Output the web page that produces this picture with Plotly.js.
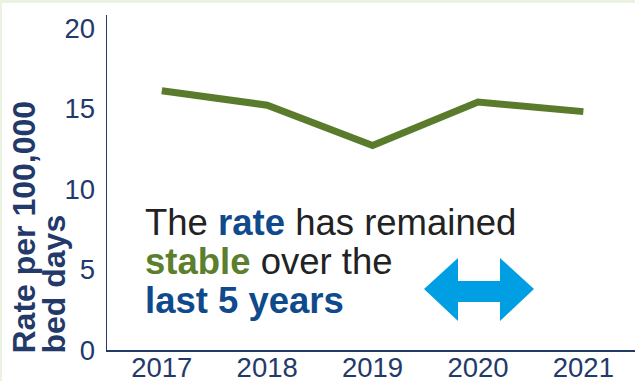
<!DOCTYPE html>
<html><head><meta charset="utf-8">
<script src="https://cdn.plot.ly/plotly-3.0.1.min.js"></script>
<style>
html,body{margin:0;padding:0;background:#fff;}
#wrap{width:633px;height:378px;border-top:3px solid #eaf3e2;border-left:2px solid #eaf3e2;background:#fff;}
#chart{width:633px;height:378px;}
</style></head><body>
<div id="wrap"><div id="chart"></div></div>
<script>
var years = ['2017','2018','2019','2020','2021'];
var rates = [16.1, 15.2, 12.7, 15.4, 14.8];
var yTicks = [0, 5, 10, 15, 20];
var yTitleLines = ['Rate per 100,000', 'bed days'];
var msgLines = [
  'The <span style="color:#0f4b8c"><b>rate</b></span> has remained',
  '<span style="color:#5b7f2d"><b>stable</b></span> over the',
  '<span style="color:#0f4b8c"><b>last 5 years</b></span>'
];

var W = 633, H = 378, ML = 105, MR = 0, MT = 12, MB = 31;
var OX = 2, OY = 3;
function px(x){ return (x - OX - ML) / (W - ML - MR); }
function py(y){ return 1 - (y - OY - MT) / (H - MT - MB); }

var navy = '#23396a';
var font = "'Liberation Sans', Arial, sans-serif";

var trace = {
  x: years, y: rates, type: 'scatter', mode: 'lines',
  line: {color: '#5a7b2b', width: 7},
  hoverinfo: 'skip'
};

// double arrow (decoration) in page pixel coords
var ar = [[424,289],[458,258],[458,281],[500,281],[500,258],[534,289],[500,321],[500,302],[458,302],[458,321]];
var path = ar.map(function(p,i){ return (i?'L':'M') + px(p[0]) + ',' + py(p[1]); }).join(' ') + ' Z';

var titleX = [23, 53];
var msgY = [222, 261, 300];
var anns = [];
yTitleLines.forEach(function(t, i){
  anns.push({text: '<b>' + t + '</b>', xref:'paper', yref:'paper', x: px(titleX[i]), y: py(356),
   xanchor:'center', yanchor:'bottom', textangle:-90, showarrow:false,
   font:{family:font, size:32, color:navy}});
});
msgLines.forEach(function(t, i){
  anns.push({text: t, xref:'paper', yref:'paper', x: px(143), y: py(msgY[i]), xanchor:'left', yanchor:'middle',
   showarrow:false, font:{family:font, size:36.5, color:'#222222'}});
});

var layout = {
  width: W, height: H,
  margin: {l: ML, r: MR, t: MT, b: MB, pad: 0},
  paper_bgcolor: '#ffffff', plot_bgcolor: '#ffffff',
  showlegend: false,
  xaxis: {type:'category', range:[-0.52, 4.49], showline:true, linecolor:navy, linewidth:1.5,
          showgrid:false, zeroline:false, ticks:'', ticklabelstandoff: -8,
          tickfont:{family:font, size:27.5, color:navy}, fixedrange:true},
  yaxis: {range:[0, 20.8], tickvals: yTicks, showline:true, linecolor:navy, linewidth:1.5,
          showgrid:false, zeroline:false, ticks:'', ticklabelstandoff: 5,
          tickfont:{family:font, size:27.5, color:navy}, fixedrange:true},
  shapes: [{type:'path', path: path, xref:'paper', yref:'paper', fillcolor:'#009fe3', line:{width:0}}],
  annotations: anns
};
Plotly.newPlot('chart', [trace], layout, {displayModeBar:false, staticPlot:true});
</script></body></html>
